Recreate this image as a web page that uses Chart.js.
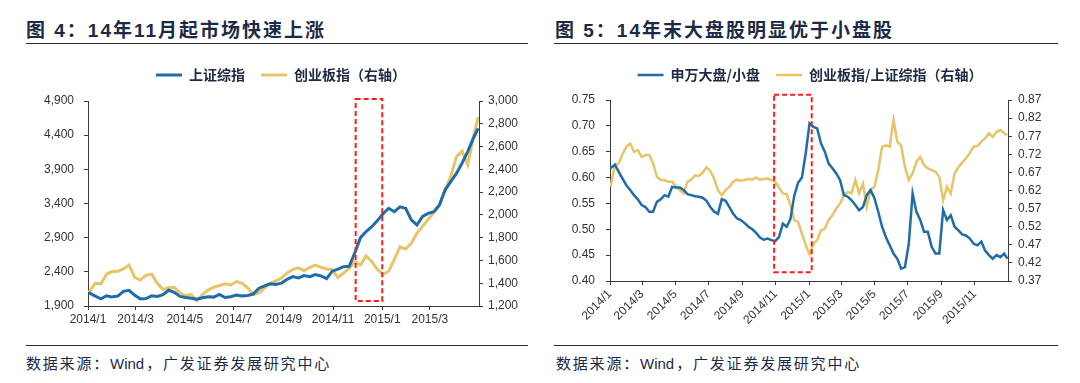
<!DOCTYPE html>
<html>
<head>
<meta charset="utf-8">
<script src="https://cdn.jsdelivr.net/npm/chart.js@4.4.1/dist/chart.umd.min.js"></script>
<style>
  body { margin: 0; background: #fff; width: 1080px; height: 383px; position: relative; overflow: hidden; }
  .title { position: absolute; top: 15px; font: bold 19px "Liberation Sans", "Noto Sans CJK SC", sans-serif; letter-spacing: 2px; color: #1d2a45; white-space: nowrap; }
  .rule { position: absolute; height: 1px; background: #2b2b2b; }
  .source { position: absolute; top: 352px; font: 15px "Noto Sans CJK SC", sans-serif; letter-spacing: 1.8px; color: #1d2a45; white-space: nowrap; }
  .source span { letter-spacing: 0; font-family: "Liberation Sans", sans-serif; margin-right: 2px; }
  canvas { position: absolute; top: 48px; }
</style>
</head>
<body>
<div class="title" style="left:26px">图 4：14年11月起市场快速上涨</div>
<div class="rule" style="left:26px; width:502px; top:43px"></div>
<div class="title" style="left:555px">图 5：14年末大盘股明显优于小盘股</div>
<div class="rule" style="left:554px; width:504px; top:43px"></div>

<canvas id="leftChart" width="540" height="297" style="left:0"></canvas>
<canvas id="rightChart" width="540" height="297" style="left:540px"></canvas>

<div class="rule" style="left:26px; width:502px; top:345px"></div>
<div class="rule" style="left:554px; width:504px; top:345px"></div>
<div class="source" style="left:26px">数据来源：<span>Wind</span>，广发证券发展研究中心</div>
<div class="source" style="left:556px">数据来源：<span>Wind</span>，广发证券发展研究中心</div>

<script>
// ---- 图4 data (weekly closes) ----
const leftDates = ['2014-01-02','2014-01-10','2014-01-17','2014-01-24','2014-01-30',
    '2014-02-07','2014-02-14','2014-02-21','2014-02-28','2014-03-07','2014-03-14','2014-03-21','2014-03-28',
    '2014-04-04','2014-04-11','2014-04-18','2014-04-25','2014-05-02','2014-05-09','2014-05-16','2014-05-23','2014-05-30',
    '2014-06-06','2014-06-13','2014-06-20','2014-06-27','2014-07-04','2014-07-11','2014-07-18','2014-07-25',
    '2014-08-01','2014-08-08','2014-08-15','2014-08-22','2014-08-29','2014-09-05','2014-09-12','2014-09-19','2014-09-26',
    '2014-10-03','2014-10-10','2014-10-17','2014-10-24','2014-10-31','2014-11-07','2014-11-14','2014-11-21','2014-11-28',
    '2014-12-05','2014-12-12','2014-12-19','2014-12-26','2015-01-02','2015-01-09','2015-01-16','2015-01-23','2015-01-30',
    '2015-02-06','2015-02-13','2015-02-20','2015-02-27','2015-03-06','2015-03-13','2015-03-20','2015-03-27',
    '2015-04-03','2015-04-10','2015-04-17','2015-04-24','2015-04-30'];
const shComposite = [2095, 2045, 2005, 2050, 2033,
    2045, 2115, 2130, 2056, 2004, 2010, 2050, 2040,
    2065, 2130, 2100, 2040, 2025, 2012, 2000, 2020, 2035,
    2030, 2070, 2025, 2035, 2060, 2045, 2055, 2075,
    2160, 2195, 2225, 2215, 2235, 2290, 2330, 2310, 2345,
    2330, 2360, 2340, 2300, 2410, 2440, 2475, 2480, 2680,
    2900, 2990, 3060, 3150, 3250, 3330, 3280, 3350, 3330,
    3160, 3085, 3210, 3255, 3280, 3380, 3600, 3720,
    3840, 3990, 4160, 4355, 4500];
const chinext = [1320, 1400, 1395, 1480, 1500,
    1505, 1525, 1560, 1450, 1430, 1470, 1480, 1400,
    1345, 1360, 1365, 1315, 1290, 1300, 1245, 1300, 1340,
    1365, 1380, 1395, 1385, 1415, 1400, 1360, 1300,
    1315, 1360, 1395, 1420, 1445, 1490, 1520, 1535, 1510,
    1540, 1560, 1540, 1525, 1520, 1450, 1490, 1530, 1590,
    1560, 1640, 1590, 1520, 1480, 1505, 1610, 1720, 1700,
    1750, 1840, 1900, 1960, 2020, 2090, 2220, 2340,
    2510, 2560, 2440, 2680, 2860];
const leftXTicks = ['2014/1','2014/3','2014/5','2014/7','2014/9','2014/11','2015/1','2015/3'];
const leftYTicks = [1900, 2400, 2900, 3400, 3900, 4400, 4900];
const leftY2Ticks = [1200, 1400, 1600, 1800, 2000, 2200, 2400, 2600, 2800, 3000];

// ---- 图5 data (weekly) ----
const rightDates = ['2014-01-02','2014-01-10','2014-01-17','2014-01-24','2014-01-31',
    '2014-02-07','2014-02-14','2014-02-21','2014-02-28','2014-03-07','2014-03-14','2014-03-21','2014-03-28',
    '2014-04-04','2014-04-11','2014-04-18','2014-04-25','2014-05-02','2014-05-09','2014-05-16','2014-05-23','2014-05-30',
    '2014-06-06','2014-06-13','2014-06-20','2014-06-27','2014-07-04','2014-07-11','2014-07-18','2014-07-25',
    '2014-08-01','2014-08-08','2014-08-15','2014-08-22','2014-08-29','2014-09-05','2014-09-12','2014-09-19','2014-09-26',
    '2014-10-03','2014-10-10','2014-10-17','2014-10-24','2014-10-31','2014-11-07','2014-11-14','2014-11-21','2014-11-28',
    '2014-12-05','2014-12-12','2014-12-19','2014-12-26',
    '2015-01-02','2015-01-09','2015-01-16','2015-01-23','2015-01-30','2015-02-06','2015-02-13','2015-02-20','2015-02-27',
    '2015-03-06','2015-03-13','2015-03-20','2015-03-27','2015-04-03','2015-04-10','2015-04-17','2015-04-24',
    '2015-05-01','2015-05-08','2015-05-15','2015-05-22','2015-05-29','2015-06-05','2015-06-12','2015-06-19','2015-06-26',
    '2015-07-03','2015-07-10','2015-07-17','2015-07-24','2015-07-31','2015-08-07','2015-08-14','2015-08-21','2015-08-28',
    '2015-09-04','2015-09-11','2015-09-18','2015-09-25','2015-10-02','2015-10-09','2015-10-16','2015-10-23','2015-10-30',
    '2015-11-06','2015-11-13','2015-11-20','2015-11-27','2015-12-04','2015-12-11','2015-12-18','2015-12-25','2015-12-31'];
const bigSmallRatio = [0.618, 0.625, 0.611, 0.598, 0.585, 0.576, 0.566, 0.558, 0.547, 0.543, 0.534, 0.534, 0.553,
    0.558, 0.566, 0.563, 0.582, 0.581, 0.581, 0.576, 0.568, 0.566, 0.564, 0.563, 0.561, 0.555, 0.543, 0.534, 0.530,
    0.558, 0.555, 0.543, 0.530, 0.521, 0.518, 0.512, 0.505, 0.500, 0.493, 0.484, 0.480, 0.482, 0.479, 0.477, 0.485,
    0.511, 0.505, 0.520, 0.565, 0.590, 0.600, 0.647,
    0.705, 0.698, 0.695, 0.666, 0.650, 0.627, 0.618, 0.608, 0.595, 0.566, 0.563, 0.556, 0.547, 0.537, 0.543, 0.566,
    0.576, 0.560, 0.534, 0.505, 0.485, 0.469, 0.453, 0.443, 0.424, 0.427, 0.472, 0.569, 0.534, 0.518, 0.495, 0.495,
    0.466, 0.453, 0.453, 0.537, 0.518, 0.527, 0.505, 0.498, 0.490, 0.488, 0.482, 0.472, 0.469, 0.476, 0.459, 0.450,
    0.443, 0.450, 0.446, 0.453, 0.443];
const chinextToSh = [0.630, 0.690, 0.695, 0.720, 0.741, 0.750, 0.727, 0.732, 0.713, 0.718, 0.718, 0.695, 0.658,
    0.649, 0.649, 0.644, 0.644, 0.632, 0.621, 0.612, 0.644, 0.650, 0.662, 0.660, 0.669, 0.684, 0.674, 0.653, 0.621,
    0.607, 0.621, 0.630, 0.644, 0.650, 0.647, 0.649, 0.652, 0.650, 0.656, 0.650, 0.652, 0.653, 0.649, 0.644, 0.628,
    0.612, 0.610, 0.579, 0.538, 0.533, 0.501, 0.469,
    0.444, 0.473, 0.483, 0.510, 0.515, 0.538, 0.552, 0.570, 0.584, 0.607, 0.616, 0.612, 0.649, 0.612, 0.639, 0.575,
    0.621, 0.630, 0.676, 0.741, 0.745, 0.741, 0.815, 0.755, 0.745, 0.685, 0.649, 0.667, 0.699, 0.713, 0.690, 0.681,
    0.676, 0.672, 0.658, 0.593, 0.630, 0.612, 0.667, 0.684, 0.697, 0.709, 0.724, 0.741, 0.743, 0.755, 0.764, 0.778,
    0.768, 0.782, 0.787, 0.778, 0.773];
const rightXTicks = ['2014/1','2014/3','2014/5','2014/7','2014/9','2014/11','2015/1','2015/3','2015/5','2015/7','2015/9','2015/11'];
const rightYTicks = [0.40, 0.45, 0.50, 0.55, 0.60, 0.65, 0.70, 0.75];
const rightY2Ticks = [0.37, 0.42, 0.47, 0.52, 0.57, 0.62, 0.67, 0.72, 0.77, 0.82, 0.87];

const BLUE = '#1f6cab';
const GOLD = '#e6c468';
const AXIS = '#3a3a3a';

// dates -> days since 2014-01-01 (x axis is linear in days)
const BASE = Date.UTC(2014, 0, 1);
function dayOf(s) {
    const p = s.split(/[-\/]/).map(Number);
    return (Date.UTC(p[0], p[1] - 1, p[2] || 1) - BASE) / 86400000;
}
const toPoints = (dates, vals) => dates.map((d, i) => ({ x: dayOf(d), y: vals[i] }));

Chart.defaults.font.family = '"Liberation Sans", Arial, sans-serif';
Chart.defaults.font.size = 12;
Chart.defaults.color = '#333';

// red dashed highlight box, placed in data units
const dashedBox = {
    id: 'dashedBox',
    afterDatasetsDraw(chart, args, opts) {
        const { ctx, scales } = chart;
        const x0 = scales.x.getPixelForValue(dayOf(opts.from));
        const x1 = scales.x.getPixelForValue(dayOf(opts.to));
        const y0 = scales.y.getPixelForValue(opts.high);
        const y1 = scales.y.getPixelForValue(opts.low);
        ctx.save();
        ctx.strokeStyle = '#ff1a1a';
        ctx.lineWidth = 2;
        ctx.setLineDash([5, 3]);
        ctx.strokeRect(x0, y0, x1 - x0, y1 - y0);
        ctx.restore();
    }
};

// push the plot down below the legend
const legendGap = {
    id: 'legendGap',
    beforeInit(chart, args, opts) {
        const fit = chart.legend.fit;
        chart.legend.fit = function() {
            fit.call(this);
            this.height += opts.extra;
        };
    }
};

function tickAxis(position, width, ticks, fmt, padding) {
    return {
        position: position,
        min: ticks[0],
        max: ticks[ticks.length - 1],
        afterBuildTicks: axis => { axis.ticks = ticks.map(v => ({ value: v })); },
        afterFit: axis => { axis.width = width; },
        grid: { drawOnChartArea: false, color: AXIS, tickLength: 4 },
        border: { color: AXIS },
        ticks: { padding: padding, color: '#333', callback: (v, i) => fmt(ticks[i]) }
    };
}

function dateAxis(labels, maxLabel, height, rotation) {
    return {
        type: 'linear',
        min: dayOf(labels[0]),
        max: dayOf(maxLabel),
        afterBuildTicks: axis => { axis.ticks = labels.map(t => ({ value: dayOf(t) })); },
        afterFit: axis => { axis.height = height; },
        grid: { drawOnChartArea: false, color: AXIS, tickLength: 4 },
        border: { color: AXIS },
        ticks: { autoSkip: false, minRotation: rotation, maxRotation: rotation, padding: 2, color: '#333',
                 callback: (v, i) => labels[i] }
    };
}

const legendOpts = {
    labels: {
        boxWidth: 26,
        boxHeight: 0,
        padding: 16,
        color: '#1d2a45',
        font: { family: '"Noto Sans CJK SC", sans-serif', size: 14, weight: 'bold' }
    }
};

const comma = v => v.toLocaleString('en-US');
const two = v => v.toFixed(2);

// 图4
new Chart(document.getElementById('leftChart'), {
    type: 'line',
    data: {
        datasets: [{
            label: '上证综指',
            data: toPoints(leftDates, shComposite),
            borderColor: BLUE,
            backgroundColor: BLUE,
            borderWidth: 3,
            yAxisID: 'y'
        }, {
            label: '创业板指（右轴）',
            data: toPoints(leftDates, chinext),
            borderColor: GOLD,
            backgroundColor: GOLD,
            borderWidth: 3,
            yAxisID: 'y1'
        }]
    },
    options: {
        responsive: false,
        animation: false,
        devicePixelRatio: 1,
        elements: { point: { radius: 0 }, line: { tension: 0 } },
        layout: { padding: { top: 4, left: 22, right: 0, bottom: 9 } },
        scales: {
            x: dateAxis(leftXTicks, '2015/5', 30, 0),
            y: tickAxis('left', 66, leftYTicks, comma, 10),
            y1: tickAxis('right', 61, leftY2Ticks, comma, 5)
        },
        plugins: {
            legend: legendOpts,
            tooltip: { enabled: false },
            legendGap: { extra: 9 },
            dashedBox: { from: '2014-11-29', to: '2015-01-01', low: 1975, high: 4930 }
        }
    },
    plugins: [legendGap, dashedBox]
});

// 图5
new Chart(document.getElementById('rightChart'), {
    type: 'line',
    data: {
        datasets: [{
            label: '申万大盘/小盘',
            data: toPoints(rightDates, bigSmallRatio),
            borderColor: BLUE,
            backgroundColor: BLUE,
            borderWidth: 2.5,
            yAxisID: 'y'
        }, {
            label: '创业板指/上证综指（右轴）',
            data: toPoints(rightDates, chinextToSh),
            borderColor: GOLD,
            backgroundColor: GOLD,
            borderWidth: 2.5,
            yAxisID: 'y1'
        }]
    },
    options: {
        responsive: false,
        animation: false,
        devicePixelRatio: 1,
        elements: { point: { radius: 0 }, line: { tension: 0 } },
        layout: { padding: { top: 4, left: 0, right: 0, bottom: 9 } },
        scales: {
            x: dateAxis(rightXTicks, '2016/1', 55, 45),
            y: tickAxis('left', 70, rightYTicks, two, 11),
            y1: tickAxis('right', 72, rightY2Ticks, two, 6)
        },
        plugins: {
            legend: legendOpts,
            tooltip: { enabled: false },
            legendGap: { extra: 8 },
            dashedBox: { from: '2014-10-29', to: '2015-01-06', low: 0.417, high: 0.76 }
        }
    },
    plugins: [legendGap, dashedBox]
});
</script>
</body>
</html>
